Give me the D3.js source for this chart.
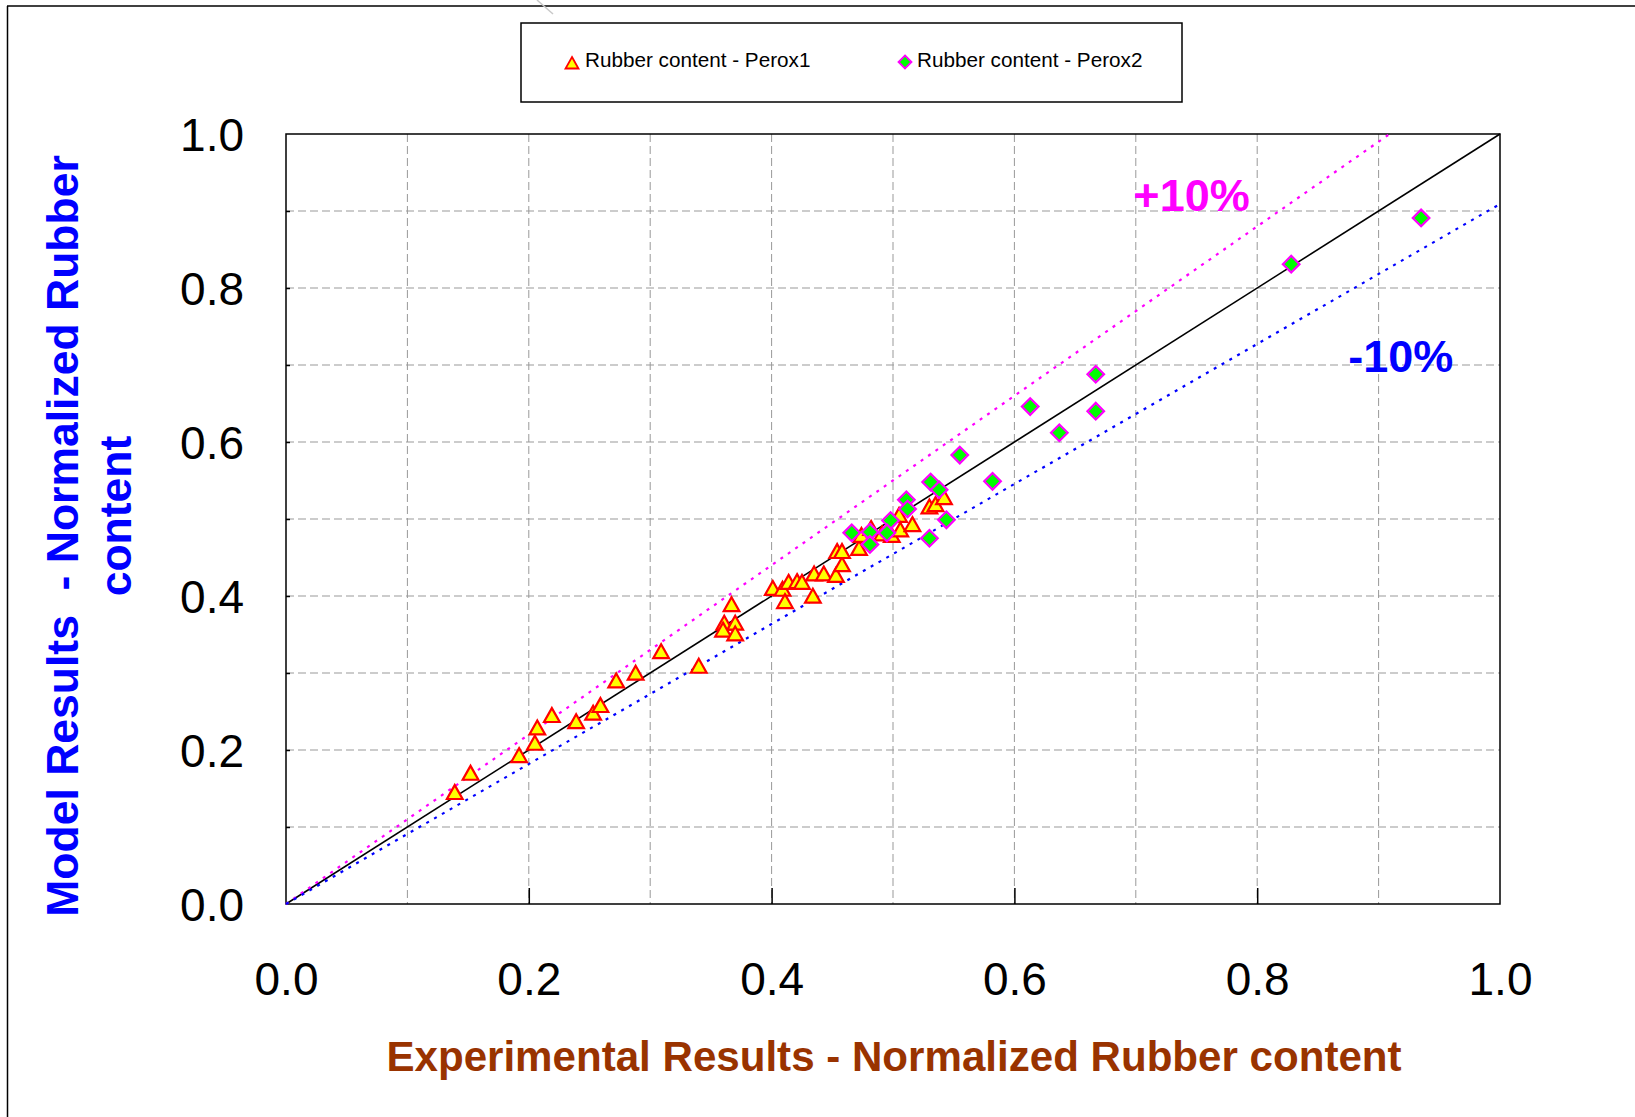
<!DOCTYPE html>
<html>
<head>
<meta charset="utf-8">
<script src="https://cdn.jsdelivr.net/npm/d3@7/dist/d3.min.js"></script>
<style>
    body { margin: 0; background: #fff; }
    svg text { font-family: "Liberation Sans", Arial, sans-serif; }
</style>
</head>
<body>
<div id="chart"></div>
<script>
// series names as in the legend
var series_names = ["Rubber content - Perox1", "Rubber content - Perox2"];

// Perox1 (triangles): experimental vs model, normalized
var perox1_exp   = [0.139, 0.152, 0.192, 0.205, 0.207, 0.219, 0.239, 0.253, 0.259, 0.272,
                    0.288, 0.309, 0.340, 0.367, 0.361, 0.370, 0.360, 0.370, 0.401, 0.409,
                    0.414, 0.421, 0.425, 0.411, 0.434, 0.435, 0.443, 0.453, 0.458, 0.454,
                    0.458, 0.472, 0.474, 0.482, 0.491, 0.499, 0.505, 0.506, 0.516, 0.530,
                    0.535, 0.542];
var perox1_model = [0.145, 0.170, 0.193, 0.209, 0.229, 0.245, 0.237, 0.248, 0.258, 0.290,
                    0.300, 0.328, 0.309, 0.389, 0.365, 0.365, 0.356, 0.351, 0.410, 0.409,
                    0.418, 0.419, 0.418, 0.393, 0.400, 0.429, 0.429, 0.427, 0.441, 0.458,
                    0.458, 0.462, 0.479, 0.488, 0.481, 0.479, 0.505, 0.486, 0.493, 0.516,
                    0.519, 0.528];

// Perox2 (diamonds)
var perox2_exp   = [0.935, 0.828, 0.667, 0.613, 0.667, 0.637, 0.555, 0.582, 0.531, 0.538,
                    0.544, 0.530, 0.511, 0.512, 0.498, 0.495, 0.481, 0.481, 0.466];
var perox2_model = [0.891, 0.831, 0.688, 0.646, 0.640, 0.612, 0.583, 0.549, 0.548, 0.538,
                    0.499, 0.475, 0.525, 0.513, 0.498, 0.482, 0.483, 0.467, 0.482];

// axes
var label_ticks = [0.0, 0.2, 0.4, 0.6, 0.8, 1.0];
var grid_ticks  = [0.1, 0.2, 0.3, 0.4, 0.5, 0.6, 0.7, 0.8, 0.9];
var x_title = "Experimental Results - Normalized Rubber content";
var y_title = ["Model Results  - Normalized Rubber", "content"];

// +/-10% band lines (y = 1.1x and y = x/1.1)
var band_names   = ["+10%", "-10%"];
var band_factors = [1.1, 1 / 1.1];

var chart = {};
chart.width = 1635;
chart.height = 1117;
chart.margin = {left: 286, top: 134, right: 135, bottom: 213};
chart.w = chart.width - chart.margin.left - chart.margin.right;
chart.h = chart.height - chart.margin.top - chart.margin.bottom;

chart.svg = d3.select("#chart").append("svg")
    .attr("width", chart.width)
    .attr("height", chart.height)
    .style("display", "block")
    .style("background-color", "#fff");

// page frame (left + top edge of the slide)
chart.svg.append("line")
    .attr("x1", 7.5).attr("y1", 6).attr("x2", 7.5).attr("y2", chart.height)
    .attr("stroke", "#000").attr("stroke-width", 1.5);
chart.svg.append("line")
    .attr("x1", 7).attr("y1", 6).attr("x2", chart.width).attr("y2", 6)
    .attr("stroke", "#000").attr("stroke-width", 1.5);
chart.svg.append("line")
    .attr("x1", 537).attr("y1", 0).attr("x2", 553).attr("y2", 14)
    .attr("stroke", "#c8c8c8").attr("stroke-width", 1.5);

chart.group = chart.svg.append("g")
    .attr("transform", "translate(" + chart.margin.left + "," + chart.margin.top + ")");

var xScale = d3.scaleLinear().domain([0, 1]).range([0, chart.w]);
var yScale = d3.scaleLinear().domain([0, 1]).range([chart.h, 0]);

// dashed grid
chart.group.selectAll(".vgrid")
    .data(grid_ticks)
    .enter().append("line")
    .attr("class", "vgrid")
    .attr("x1", function (d) { return xScale(d); })
    .attr("x2", function (d) { return xScale(d); })
    .attr("y1", 0).attr("y2", chart.h)
    .attr("stroke", "#999")
    .attr("stroke-width", 1)
    .attr("stroke-dasharray", "8,4");

chart.group.selectAll(".hgrid")
    .data(grid_ticks)
    .enter().append("line")
    .attr("class", "hgrid")
    .attr("y1", function (d) { return yScale(d); })
    .attr("y2", function (d) { return yScale(d); })
    .attr("x1", 0).attr("x2", chart.w)
    .attr("stroke", "#999")
    .attr("stroke-width", 1)
    .attr("stroke-dasharray", "8,4");

// inward tick marks
chart.group.append("g")
    .attr("transform", "translate(0," + chart.h + ")")
    .call(d3.axisBottom(xScale).tickValues([0.2, 0.4, 0.6, 0.8]).tickSize(-16).tickFormat(""))
    .call(function (g) { g.select(".domain").remove(); })
    .selectAll("line").attr("stroke", "#000").attr("stroke-width", 1.5);

chart.group.append("g")
    .call(d3.axisLeft(yScale).tickValues(grid_ticks).tickSize(-4).tickFormat(""))
    .call(function (g) { g.select(".domain").remove(); })
    .selectAll("line").attr("stroke", "#000").attr("stroke-width", 1.5);

// plot border
chart.group.append("rect")
    .attr("x", 0).attr("y", 0)
    .attr("width", chart.w).attr("height", chart.h)
    .attr("fill", "none")
    .attr("stroke", "#000")
    .attr("stroke-width", 1.5);

// tick labels
var xAxis = chart.group.append("g")
    .attr("transform", "translate(0," + chart.h + ")")
    .call(d3.axisBottom(xScale).tickValues(label_ticks).tickFormat(d3.format(".1f")).tickSize(0).tickPadding(58));
xAxis.select(".domain").remove();
xAxis.selectAll("text")
    .style("font-size", "46px")
    .style("font-family", "'Liberation Sans', Arial, sans-serif")
    .attr("fill", "#000");

var yAxis = chart.group.append("g")
    .call(d3.axisLeft(yScale).tickValues(label_ticks).tickFormat(d3.format(".1f")).tickSize(0).tickPadding(42));
yAxis.select(".domain").remove();
yAxis.selectAll("text")
    .attr("dy", "0.35em")
    .style("font-size", "46px")
    .style("font-family", "'Liberation Sans', Arial, sans-serif")
    .attr("fill", "#000");

// y = x and +/-10% lines
var refLine = function (factor) {
    var xEnd = Math.min(1, 1 / factor);
    return d3.line()
        .x(function (d) { return xScale(d); })
        .y(function (d) { return yScale(d * factor); })([0, xEnd]);
};

chart.group.append("path")
    .attr("d", refLine(1))
    .attr("fill", "none")
    .attr("stroke", "#000")
    .attr("stroke-width", 1.6);

var bandColors = ["#ff00ff", "#0000ff"];
chart.group.selectAll(".band")
    .data(band_factors)
    .enter().append("path")
    .attr("class", "band")
    .attr("d", function (d) { return refLine(d); })
    .attr("fill", "none")
    .attr("stroke", function (d, i) { return bandColors[i]; })
    .attr("stroke-width", 2.2)
    .attr("stroke-dasharray", "3,6");

// band annotations
var bandLabelPos = [[0.698, 0.900], [0.875, 0.691]];
chart.group.selectAll(".bandLabel")
    .data(band_names)
    .enter().append("text")
    .attr("class", "bandLabel")
    .attr("x", function (d, i) { return xScale(bandLabelPos[i][0]); })
    .attr("y", function (d, i) { return yScale(bandLabelPos[i][1]); })
    .attr("fill", function (d, i) { return bandColors[i]; })
    .style("font-size", "45px")
    .style("font-weight", "bold")
    .text(function (d) { return d; });

// markers
var triPath = function (s) {
    return "M0," + (-s * 0.5) + "L" + (s * 0.54) + "," + (s * 0.46) + "L" + (-s * 0.54) + "," + (s * 0.46) + "Z";
};
var diaPath = function (s) {
    return "M0," + (-s) + "L" + s + ",0L0," + s + "L" + (-s) + ",0Z";
};

chart.group.selectAll(".perox1")
    .data(d3.zip(perox1_exp, perox1_model))
    .enter().append("path")
    .attr("class", "perox1")
    .attr("d", triPath(14.5))
    .attr("transform", function (d) { return "translate(" + xScale(d[0]) + "," + yScale(d[1]) + ")"; })
    .attr("fill", "#ffff00")
    .attr("stroke", "#ff0000")
    .attr("stroke-width", 2.2)
    .attr("stroke-linejoin", "miter");

chart.group.selectAll(".perox2")
    .data(d3.zip(perox2_exp, perox2_model))
    .enter().append("path")
    .attr("class", "perox2")
    .attr("d", diaPath(8.3))
    .attr("transform", function (d) { return "translate(" + xScale(d[0]) + "," + yScale(d[1]) + ")"; })
    .attr("fill", "#00ff00")
    .attr("stroke", "#ff00ff")
    .attr("stroke-width", 2.2);

// axis titles
chart.svg.append("text")
    .attr("x", 894)
    .attr("y", 1071)
    .attr("text-anchor", "middle")
    .attr("fill", "#993300")
    .style("font-size", "42.1px")
    .style("font-weight", "bold")
    .text(x_title);

var yTitleAt = [[78, 536], [131, 516]];
chart.svg.selectAll(".ytitle")
    .data(y_title)
    .enter().append("text")
    .attr("class", "ytitle")
    .attr("transform", function (d, i) { return "translate(" + yTitleAt[i][0] + "," + yTitleAt[i][1] + ") rotate(-90)"; })
    .attr("text-anchor", "middle")
    .attr("fill", "#0000ff")
    .style("font-size", "44.5px")
    .style("font-weight", "bold")
    .style("white-space", "pre")
    .text(function (d) { return d; });

// legend
var legend = chart.svg.append("g");
legend.append("rect")
    .attr("x", 521).attr("y", 23)
    .attr("width", 661).attr("height", 79)
    .attr("fill", "#fff")
    .attr("stroke", "#000")
    .attr("stroke-width", 1.5);

legend.append("path")
    .attr("d", triPath(12))
    .attr("transform", "translate(572,63)")
    .attr("fill", "#ffff00")
    .attr("stroke", "#ff0000")
    .attr("stroke-width", 1.8);
legend.append("path")
    .attr("d", diaPath(6.5))
    .attr("transform", "translate(905,62)")
    .attr("fill", "#00ff00")
    .attr("stroke", "#ff00ff")
    .attr("stroke-width", 1.8);

legend.selectAll(".legendText")
    .data(series_names)
    .enter().append("text")
    .attr("class", "legendText")
    .attr("x", function (d, i) { return i === 0 ? 585 : 917; })
    .attr("y", 66.5)
    .attr("fill", "#000")
    .style("font-size", "20.7px")
    .text(function (d) { return d; });
</script>
</body>
</html>
